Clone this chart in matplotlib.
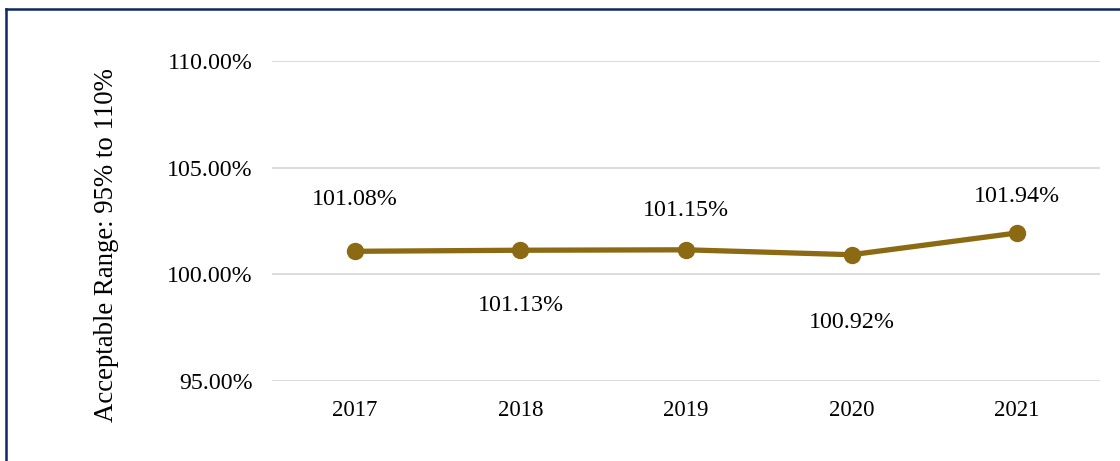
import matplotlib.pyplot as plt
from matplotlib.lines import Line2D

years = ['2017', '2018', '2019', '2020', '2021']
ratios = [101.08, 101.13, 101.15, 100.92, 101.94]
# vertical offsets (points) for each value label
label_offsets = [37, -40, 28, -49, 26]

line_color = '#8C6A14'
frame_color = '#0C2866'

plt.rcParams['font.family'] = ['Liberation Serif', 'DejaVu Serif']

fig = plt.figure(figsize=(11.2, 4.61), dpi=100)
ax = fig.add_axes([0.243, 0.1735, 0.739, 0.6942])

x = range(len(years))
ax.plot(x, ratios, color=line_color, linewidth=3.8, marker='o',
        markersize=11.5, zorder=3)

for i, v in enumerate(ratios):
    ax.annotate(f'{v:.2f}%', (i, v), xytext=(0, label_offsets[i]),
                textcoords='offset points', ha='center', va='center',
                fontsize=17.3)

ax.set_xlim(-0.5, len(years) - 0.5)
ax.set_ylim(95, 110)
ax.set_yticks([95, 100, 105, 110])
ax.set_yticklabels([f'{t:.2f}%' for t in [95, 100, 105, 110]])
ax.set_xticks(list(x))
ax.set_xticklabels(years)
ax.tick_params(length=0, labelsize=16.5)
ax.tick_params(axis='y', labelsize=17.2, pad=14)
ax.tick_params(axis='x', pad=14)
ax.yaxis.grid(True, color='#D9D9D9', linewidth=1.3)
ax.set_axisbelow(True)
for s in ax.spines.values():
    s.set_visible(False)

ax.set_ylabel('Acceptable Range: 95% to 110%', fontsize=19.3)
ax.yaxis.set_label_coords(-0.185, 0.425)

# navy frame along the top and left edges
top = 1 - 9.5 / 461
left = 5.5 / 1120
fig.add_artist(Line2D([left, 1], [top, top], transform=fig.transFigure,
                      color=frame_color, linewidth=1.8))
fig.add_artist(Line2D([left, left], [0, top], transform=fig.transFigure,
                      color=frame_color, linewidth=1.8))

fig.savefig('out.png', dpi=100)
